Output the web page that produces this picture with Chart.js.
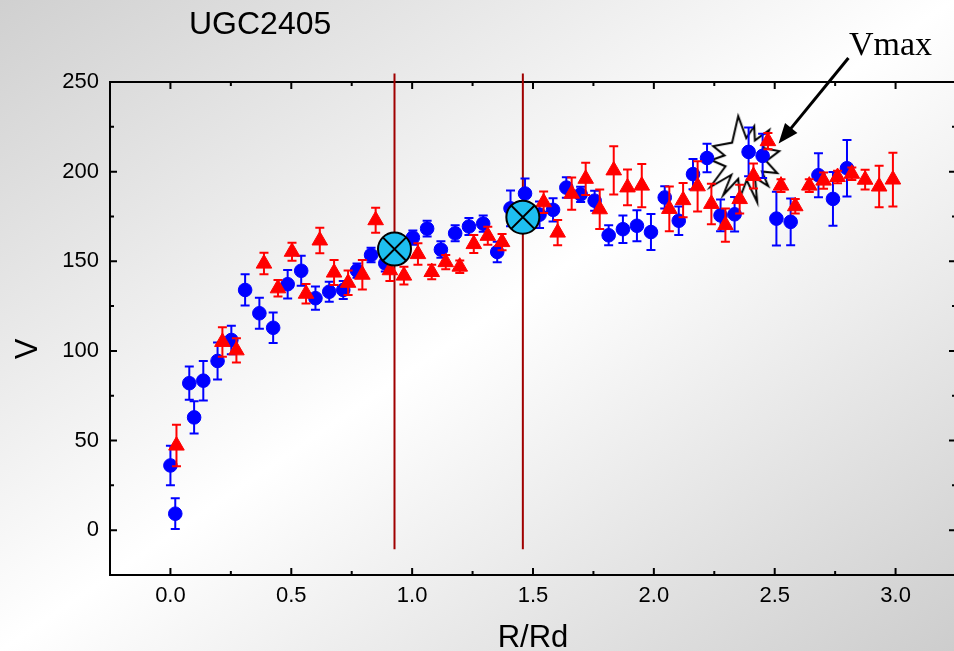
<!DOCTYPE html>
<html><head><meta charset="utf-8">
<script src="https://cdn.jsdelivr.net/npm/chart.js@4"></script>
<style>
html,body{margin:0;padding:0;width:954px;height:651px;overflow:hidden;}
body{background:linear-gradient(to bottom right,#d0d0d0 0%,#ffffff 50%,#cdcdcd 100%);}
canvas{display:block;}
</style></head><body>
<canvas id="c" width="970" height="651"></canvas>
<script>
// ---- data (R/Rd, V) ----
const blueR   = [0.000,0.020,0.078,0.098,0.136,0.195,0.252,0.309,0.368,0.425,0.485,0.541,0.600,0.657,0.715,0.772,0.830,0.889,1.003,1.062,1.119,1.178,1.235,1.294,1.352,1.407,1.467,1.527,1.583,1.638,1.697,1.755,1.813,1.872,1.930,1.988,2.045,2.103,2.162,2.220,2.276,2.334,2.392,2.450,2.507,2.566,2.681,2.741,2.799];
const blueV   = [36.1,9.2,82.0,62.9,83.4,94.4,106.1,134.0,121.0,112.9,137.2,144.7,129.4,133.0,134.0,144.8,153.5,148.8,163.2,168.2,156.5,165.6,169.4,171.0,155.2,179.5,187.8,176.0,178.7,191.1,187.3,183.8,164.5,167.9,169.8,166.3,185.6,172.6,198.6,207.6,175.6,176.2,211.0,208.8,173.8,172.0,198.0,184.8,201.9];
const blueErr = [11,8.6,9.3,9,11,10.3,8,8.7,8.7,8.5,8,8.4,6.5,5.6,5,4,4,4.5,4,4.4,4.6,4.5,4.8,4.5,5.7,10,8.4,7.4,6.5,5.7,4.2,5.6,5.6,7.7,8.6,10,6.2,7.9,8.4,7.9,8.8,9.6,13.6,12.3,15,13,12.3,15,15.7];

const redR    = [0.025,0.215,0.273,0.387,0.445,0.503,0.561,0.618,0.677,0.735,0.794,0.849,0.908,0.966,1.024,1.081,1.139,1.197,1.255,1.313,1.372,1.544,1.602,1.660,1.718,1.776,1.834,1.891,1.950,2.064,2.121,2.181,2.238,2.296,2.355,2.412,2.472,2.526,2.585,2.643,2.702,2.760,2.819,2.874,2.932,2.989];
const redV    = [47.2,105.0,100.3,148.7,134.9,155.3,131.9,161.6,143.7,138.0,142.5,172.9,145.0,142.0,154.0,144.0,149.5,147.0,159.6,164.2,160.7,182.9,166.0,187.7,196.0,179.0,200.7,191.2,192.2,179.2,184.1,191.8,182.0,170.2,184.7,197.6,217.0,192.2,180.7,192.2,195.0,197.0,198.8,195.5,191.7,195.6];
const redErr  = [11.6,8.2,6.8,6,4.6,5,5.4,7.1,7,6.8,8.2,7,6,5,6,4,4,3.5,5,5,4.5,6,7,9,9,11,13.5,10,12,12.5,9.5,14,11.3,9.3,8,7,4.5,3.5,4,3.5,4.5,3.5,3.5,5.5,11.6,15];

// highlighted radii (R/Rd) and their V
const markR = [0.927, 1.458];
const markV = [156.8, 174.6];
// Vmax marker
const vmaxR = [2.378];
const vmaxV = [207];

// axis ticks
const xMajorTicks = [0,0.5,1,1.5,2,2.5,3];
const xMinorTicks = [0.25,0.75,1.25,1.75,2.25,2.75];
const yMajorTicks = [0,50,100,150,200,250];
const yMinorTicks = [25,75,125,175,225];

const FONT = '"Liberation Sans", Arial, sans-serif';

// starburst point style
function makeStar(){
  const cv = document.createElement('canvas');
  cv.width = 100; cv.height = 100;
  const g = cv.getContext('2d');
  const tips = [[-7,-43],[9,-33],[24,-29],[34,-8],[32,14],[23,27],[12,43],[-5,38],[-22,36],[-35,28],[-34,1],[-32,-13]];
  const ang = tips.map(t=>Math.atan2(t[1],t[0]));
  g.beginPath();
  for(let i=0;i<tips.length;i++){
    const t = tips[i];
    if(i===0) g.moveTo(50+t[0],50+t[1]); else g.lineTo(50+t[0],50+t[1]);
    let a1 = ang[i], a2 = ang[(i+1)%tips.length];
    if(a2 < a1) a2 += Math.PI*2;
    const am = (a1+a2)/2, ri = 21;
    g.lineTo(50+Math.cos(am)*ri, 50+Math.sin(am)*ri);
  }
  g.closePath();
  g.fillStyle = '#ffffff'; g.fill();
  g.lineWidth = 2; g.strokeStyle = '#000'; g.lineJoin='miter'; g.stroke();
  return cv;
}

const errorBars = {
  id: 'errorBars',
  beforeDatasetDraw(chart, args){
    const ds = chart.data.datasets[args.index];
    if(!ds.errors) return;
    const xs = chart.scales.x, ys = chart.scales.y, ctx = chart.ctx;
    ctx.save();
    ctx.strokeStyle = ds.errColor; ctx.lineWidth = 2;
    ds.data.forEach((p,i)=>{
      const e = ds.errors[i];
      const px = xs.getPixelForValue(p.x);
      const y1 = ys.getPixelForValue(p.y + e), y2 = ys.getPixelForValue(p.y - e);
      ctx.beginPath();
      ctx.moveTo(px,y1); ctx.lineTo(px,y2);
      ctx.moveTo(px-4.5,y1); ctx.lineTo(px+4.5,y1);
      ctx.moveTo(px-4.5,y2); ctx.lineTo(px+4.5,y2);
      ctx.stroke();
    });
    ctx.restore();
  }
};

const frame = {
  id: 'frame',
  beforeDatasetsDraw(chart){
    const {ctx, chartArea:a} = chart; const xs = chart.scales.x, ys = chart.scales.y;
    ctx.save();
    ctx.strokeStyle = '#000'; ctx.lineWidth = 2;
    ctx.strokeRect(a.left, a.top, a.right-a.left, a.bottom-a.top);
    ctx.beginPath();
    const tx = (v,len)=>{ const p = xs.getPixelForValue(v);
      ctx.moveTo(p,a.bottom); ctx.lineTo(p,a.bottom-len);
      ctx.moveTo(p,a.top); ctx.lineTo(p,a.top+len); };
    const ty = (v,len)=>{ const p = ys.getPixelForValue(v);
      ctx.moveTo(a.left,p); ctx.lineTo(a.left+len,p);
      ctx.moveTo(a.right,p); ctx.lineTo(a.right-len,p); };
    xMajorTicks.forEach(v=>tx(v,7)); xMinorTicks.forEach(v=>tx(v,4));
    yMajorTicks.forEach(v=>ty(v,7)); yMinorTicks.forEach(v=>ty(v,4));
    ctx.stroke();
    ctx.restore();
  },
  afterDraw(chart){
    const {ctx, chartArea:a} = chart; const xs = chart.scales.x, ys = chart.scales.y;
    ctx.save();
    ctx.fillStyle = '#000';
    ctx.font = '32px ' + FONT; ctx.textAlign = 'left'; ctx.textBaseline = 'alphabetic';
    ctx.fillText('UGC2405', 189, 34);
    ctx.font = '31px ' + FONT; ctx.textAlign = 'center';
    ctx.fillText('R/Rd', (a.left+a.right)/2, 647);
    ctx.save(); ctx.translate(28, 349); ctx.rotate(-Math.PI/2);
    ctx.textBaseline = 'middle'; ctx.fillText('V', 0, 0); ctx.restore();
    // Vmax label and arrow
    ctx.font = '34px "Liberation Serif", "Times New Roman", serif'; ctx.textAlign = 'left';
    ctx.fillText('Vmax', 849, 55);
    const x1 = xs.getPixelForValue(2.805), y1 = ys.getPixelForValue(263.4);
    const x2 = xs.getPixelForValue(2.516), y2 = ys.getPixelForValue(215.7);
    const ang = Math.atan2(y2-y1, x2-x1), hl = 20, hw = 8;
    const bx = x2 - Math.cos(ang)*hl, by = y2 - Math.sin(ang)*hl;
    ctx.strokeStyle = '#000'; ctx.lineWidth = 3;
    ctx.beginPath(); ctx.moveTo(x1,y1); ctx.lineTo(bx + Math.cos(ang)*4, by + Math.sin(ang)*4); ctx.stroke();
    ctx.beginPath();
    ctx.moveTo(x2,y2);
    ctx.lineTo(bx - Math.sin(ang)*hw, by + Math.cos(ang)*hw);
    ctx.lineTo(bx + Math.sin(ang)*hw, by - Math.cos(ang)*hw);
    ctx.closePath(); ctx.fill();
    ctx.restore();
  }
};

const pts = (xs, ys) => xs.map((x,i)=>({x, y: ys[i]}));
const LINE = '#a00000';

new Chart(document.getElementById('c'), {
  type: 'scatter',
  data: { datasets: [
    { data: pts(markR, markV), pointStyle: 'crossRot', pointRadius: 16.5, pointBorderColor: '#000', pointBorderWidth: 2, pointBackgroundColor: 'rgba(0,0,0,0)', order: 0 },
    { data: pts(markR, markV), pointStyle: 'circle', pointRadius: 16.5, pointBackgroundColor: '#1ebff0', pointBorderColor: '#000', pointBorderWidth: 2, order: 1 },
    { data: pts(redR, redV), errors: redErr, errColor: '#ff0000', pointStyle: 'triangle', pointRadius: 9, pointBackgroundColor: '#ff0000', pointBorderColor: '#ff0000', pointBorderWidth: 1, order: 2 },
    { data: pts(blueR, blueV), errors: blueErr, errColor: '#0000ff', pointStyle: 'circle', pointRadius: 6.8, pointBackgroundColor: '#0000ff', pointBorderColor: '#0000ff', pointBorderWidth: 1, order: 3 },
    { data: [{x: markR[0], y: -10.7}, {x: markR[0], y: 254.8}], showLine: true, borderColor: LINE, borderWidth: 2, pointRadius: 0, clip: false, order: 8 },
    { data: [{x: markR[1], y: -10.7}, {x: markR[1], y: 254.8}], showLine: true, borderColor: LINE, borderWidth: 2, pointRadius: 0, clip: false, order: 8 },
    { data: pts(vmaxR, vmaxV), pointStyle: makeStar(), pointRadius: 40, order: 9, clip: false }
  ]},
  options: {
    responsive: false, animation: false, events: [],
    devicePixelRatio: 1,
    layout: { autoPadding: false, padding: { top: 82, right: 14, left: 0, bottom: 0 } },
    plugins: { legend: { display: false }, tooltip: { enabled: false }, title: { display: false } },
    scales: {
      x: {
        type: 'linear', min: -0.25, max: 3.25,
        grid: { display: false, drawTicks: false }, border: { display: false },
        afterBuildTicks: s => { s.ticks = xMajorTicks.map(v=>({value: v})); },
        afterFit: s => { s.height = 76; },
        ticks: { font: { family: FONT, size: 22 }, color: '#000', padding: 8, maxRotation: 0,
                 callback: v => Number(v).toFixed(1) }
      },
      y: {
        type: 'linear', min: -25, max: 250,
        grid: { display: false, drawTicks: false }, border: { display: false },
        afterBuildTicks: s => { s.ticks = yMajorTicks.map(v=>({value: v})); },
        afterFit: s => { s.width = 110; },
        ticks: { font: { family: FONT, size: 22 }, color: '#000', padding: 11,
                 callback: v => String(v) }
      }
    }
  },
  plugins: [frame, errorBars]
});
</script>
</body></html>
